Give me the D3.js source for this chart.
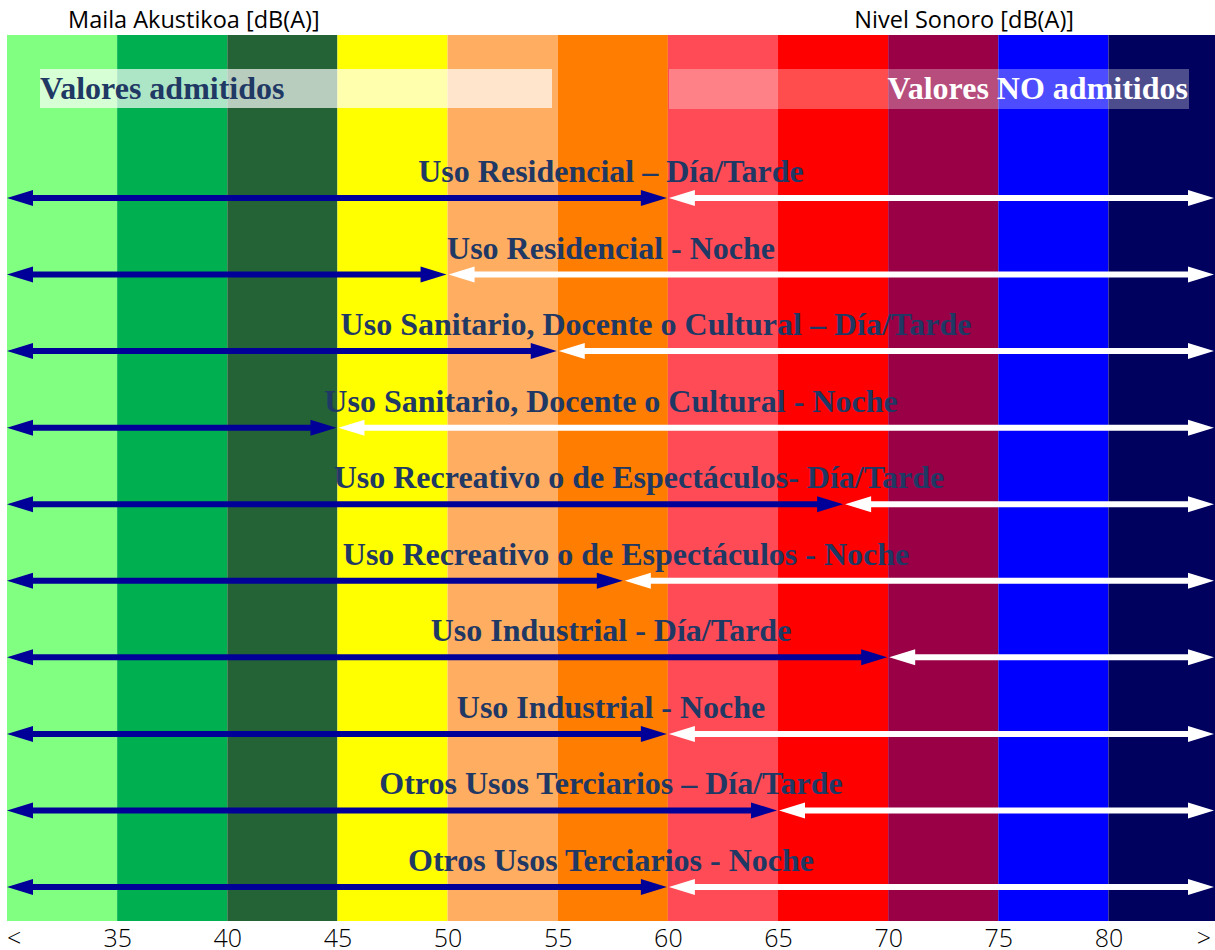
<!DOCTYPE html>
<html>
<head>
<meta charset="utf-8">
<script src="https://cdn.jsdelivr.net/npm/d3@7"></script>
<style>
    body { margin: 0; background: #fff; }
    .tick text { font-family: 'Open Sans', sans-serif; font-size: 25px; font-weight: 300; fill: #000; }
</style>
</head>
<body>
<script>

// Data

// colour bands, one every 5 dB from 30 to 85
var bandStarts = [30, 35, 40, 45, 50, 55, 60, 65, 70, 75, 80];
var bandColors = ['#80ff80', '#00b050', '#236336', '#ffff00', '#ffad60',
    '#ff7d00', '#ff4b55', '#ff0000', '#990045', '#0000ff', '#00005e'];

// tick labels at band borders
var tickValues = [35, 40, 45, 50, 55, 60, 65, 70, 75, 80];

// one row per use / time of day, with its admitted limit in dB(A)
var uses = [
    'Uso Residencial \u2013 D\u00eda/Tarde',
    'Uso Residencial - Noche',
    'Uso Sanitario, Docente o Cultural \u2013 D\u00eda/Tarde',
    'Uso Sanitario, Docente o Cultural - Noche',
    'Uso Recreativo o de Espect\u00e1culos- D\u00eda/Tarde',
    'Uso Recreativo o de Espect\u00e1culos - Noche',
    'Uso Industrial - D\u00eda/Tarde',
    'Uso Industrial - Noche',
    'Otros Usos Terciarios \u2013 D\u00eda/Tarde',
    'Otros Usos Terciarios - Noche'
];
var limits = [60, 50, 55, 45, 68, 58, 70, 60, 65, 60];


// Layout

var width = 1215;
var height = 950;
var bandTop = 35;      // top of colour bands
var bandBottom = 921;  // bottom of colour bands

// small horizontal nudges of row titles (as in the original)
var labelShift = [0, 0, 45, 0, 28, 15, 0, 0, 0, 0];

var x = d3.scaleLinear().domain([30, 85]).range([7, 1218.6]);
var y = d3.scalePoint().domain(uses).range([198, 887]);

var svg = d3.select('body').append('svg')
    .attr('width', width)
    .attr('height', height);


// Colour bands
svg.append('g').selectAll('rect')
    .data(bandStarts)
    .enter().append('rect')
    .attr('x', function (d) { return x(d); })
    .attr('y', bandTop)
    .attr('width', function (d) { return x(d + 5) - x(d); })
    .attr('height', bandBottom - bandTop)
    .attr('fill', function (d, i) { return bandColors[i]; });


// Axis titles
svg.append('text')
    .attr('x', 68).attr('y', 28)
    .style('font-family', "'Open Sans', sans-serif")
    .style('font-size', '23.5px')
    .text('Maila Akustikoa [dB(A)]');

svg.append('text')
    .attr('x', 1074).attr('y', 28)
    .attr('text-anchor', 'end')
    .style('font-family', "'Open Sans', sans-serif")
    .style('font-size', '23.5px')
    .text('Nivel Sonoro [dB(A)]');


// Bottom axis
var axis = svg.append('g')
    .attr('transform', 'translate(0,' + bandBottom + ')')
    .call(d3.axisBottom(x).tickValues(tickValues).tickSize(0));
axis.select('.domain').remove();
axis.selectAll('.tick text').attr('dy', null).attr('y', 26);

svg.append('text')
    .attr('x', x(30)).attr('y', bandBottom + 26)
    .style('font-family', "'Open Sans', sans-serif")
    .style('font-size', '25px')
    .style('font-weight', 300)
    .text('<');

svg.append('text')
    .attr('x', 1211).attr('y', bandBottom + 26)
    .attr('text-anchor', 'end')
    .style('font-family', "'Open Sans', sans-serif")
    .style('font-size', '25px')
    .style('font-weight', 300)
    .text('>');


// Legend boxes
svg.append('rect')
    .attr('x', 40).attr('y', 69).attr('width', 512).attr('height', 39)
    .attr('fill', '#fff').attr('fill-opacity', 0.68);
svg.append('text')
    .attr('x', 40).attr('y', 99)
    .style('font-family', "'Liberation Serif', 'Times New Roman', serif")
    .style('font-weight', 'bold')
    .style('font-size', '32px')
    .attr('fill', '#1f3864')
    .text('Valores admitidos');

svg.append('rect')
    .attr('x', 669).attr('y', 69).attr('width', 520).attr('height', 40)
    .attr('fill', '#fff').attr('fill-opacity', 0.3);
svg.append('text')
    .attr('x', 1188).attr('y', 99)
    .attr('text-anchor', 'end')
    .style('font-family', "'Liberation Serif', 'Times New Roman', serif")
    .style('font-weight', 'bold')
    .style('font-size', '32px')
    .attr('fill', '#fff')
    .text('Valores NO admitidos');


// Arrows

var headLen = 26;
var headHalf = 8;

// double headed arrow from x0 to x1 at y
function arrow(g, x0, x1, yy, color) {
    g.append('line')
        .attr('x1', x0 + headLen - 2).attr('x2', x1 - headLen + 2)
        .attr('y1', yy).attr('y2', yy)
        .attr('stroke', color)
        .attr('stroke-width', 6);
    g.append('path')
        .attr('d', 'M' + x0 + ',' + yy + 'L' + (x0 + headLen) + ',' + (yy - headHalf) +
            'L' + (x0 + headLen) + ',' + (yy + headHalf) + 'Z')
        .attr('fill', color);
    g.append('path')
        .attr('d', 'M' + x1 + ',' + yy + 'L' + (x1 - headLen) + ',' + (yy - headHalf) +
            'L' + (x1 - headLen) + ',' + (yy + headHalf) + 'Z')
        .attr('fill', color);
}

var rows = svg.append('g').selectAll('g.row')
    .data(uses)
    .enter().append('g')
    .attr('class', 'row');

rows.each(function (d, i) {
    var g = d3.select(this);
    var yy = y(d);
    var xl = x(limits[i]);

    g.append('text')
        .attr('x', 611 + labelShift[i])
        .attr('y', yy - 16)
        .attr('text-anchor', 'middle')
        .style('font-family', "'Liberation Serif', 'Times New Roman', serif")
        .style('font-weight', 'bold')
        .style('font-size', '32px')
        .attr('fill', '#1f3864')
        .text(d);

    arrow(g, x(30), xl - 1, yy, '#000099');
    arrow(g, xl + 1, width - 1, yy, '#ffffff');
});

</script>
</body>
</html>
